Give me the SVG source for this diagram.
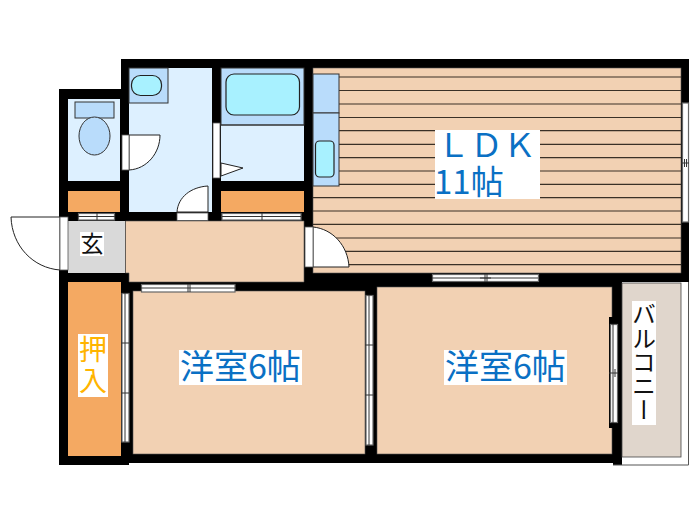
<svg xmlns="http://www.w3.org/2000/svg" width="700" height="525" viewBox="0 0 700 525">
<defs><style>
.wall{fill:#000}
.wood{fill:#f2d1b3;stroke:#555;stroke-width:.6}
.store{fill:#f4a962}
.wet{fill:#ddf0ff}
.fit{fill:#b9dcfb;stroke:#333;stroke-width:1}
.tub{fill:#a8f1ff;stroke:#222;stroke-width:1.2}
.door{fill:#fff;stroke:#222;stroke-width:1}
.leaf{fill:#fff;stroke:#555;stroke-width:.8}
.win{fill:#fff;stroke:#666;stroke-width:1.2}
.x{stroke:#333;stroke-width:1;fill:none}
.plank{stroke:#3a3026;stroke-width:1.2}
.lb{fill:#fff}
text{font-family:"Noto Sans CJK JP","Noto Sans",sans-serif}
.blue{fill:#0a70c4;font-size:34px}
</style></defs>
<rect width="700" height="525" fill="#fff"/>
<g id="walls">
<path class="wall" d="M121 59H689V282H622V465H613V463H129V465H59V89H121Z"/>
</g>
<g id="ldk">
<rect class="wood" x="313" y="68" width="368" height="205"/>
<g class="plank">
<path d="M339 77H681M339 90.500H681M339 104H681M339 117.500H681M339 130.700H681M339 144.300H681M339 157.700H681M339 171H681M339 184.300H681M313 197.700H681M313 211H681M313 224.300H681M313 238H681M313 251.300H681M313 264.700H681"/>
</g>
<rect class="fit" x="313" y="74" width="26" height="39"/>
<rect class="fit" x="313" y="113" width="26" height="73"/>
<rect class="tub" x="315.500" y="141" width="18.500" height="36" rx="4"/>
<rect class="lb" x="435" y="130" width="105" height="69"/>
<text class="blue" style="font-size:33px"><tspan x="437" y="157">ＬＤＫ</tspan><tspan x="434" y="194">11帖</tspan></text>
<path class="door" d="M313 227C333 229 348 246 349 267H313Z"/>
<rect class="leaf" x="305" y="227" width="8" height="40"/>
<rect class="win" x="682.500" y="103" width="6" height="119"/>
<path class="x" d="M681 163H689M684.500 159V167M686.500 159V167"/>
<rect class="win" x="432.500" y="274.500" width="106" height="7"/>
<path class="x" d="M432 278H538M485 274V282M487 274V282M480 278H491"/>
</g>
<g id="toilet">
<rect class="wet" x="68" y="99" width="52" height="82"/>
<rect class="fit" x="75" y="102" width="39" height="16"/>
<ellipse class="fit" cx="94.500" cy="136" rx="15.500" ry="19"/>
<rect class="store" x="68" y="191" width="52" height="21"/>
<rect class="win" x="78.500" y="213.500" width="36" height="6.500"/>
<path class="x" d="M78 216.500H115M97 213V220"/>
</g>
<g id="wash">
<rect class="wet" x="129" y="68" width="83" height="144"/>
<rect class="fit" x="129" y="68" width="39" height="35" stroke="none"/>
<rect class="tub" x="131.500" y="75.500" width="30" height="20" rx="9"/>
<path class="door" d="M129 135H160C160 153 147 169 129 170Z"/>
<rect class="leaf" x="122" y="135" width="7" height="35"/>
<path class="door" d="M208 186V212H177C178 197 191 187 208 186Z"/>
<rect class="leaf" x="177" y="213" width="31" height="7.500"/>
</g>
<g id="bath">
<rect class="wet" x="221" y="68" width="83" height="113"/>
<rect class="fit" x="221" y="68" width="83" height="57" stroke="none"/>
<path d="M221 125H304" stroke="#333" stroke-width="1"/>
<rect class="tub" x="226" y="74" width="73.500" height="41" rx="8"/>
<rect class="leaf" x="213" y="123" width="7" height="55"/>
<path class="door" d="M221 163L243 168L221 176Z"/>
<rect class="store" x="221" y="191" width="83" height="21"/>
<rect class="win" x="222" y="213.500" width="79" height="6.500"/>
<path class="x" d="M222 216.500H301M262 213V220"/>
</g>
<g id="entrance">
<rect x="68" y="221" width="57" height="52" fill="#d9d9d9"/>
<rect class="lb" x="80" y="232" width="24" height="24"/>
<text x="92" y="252" text-anchor="middle" font-size="23" fill="#111">玄</text>
<path class="door" d="M60 217H11C12 246 33 268 60 270Z"/>
<rect class="leaf" x="60" y="217" width="8" height="53"/>
</g>
<g id="hall">
<path class="wood" d="M125.500 221H304V282H129V273H125.500Z"/>
</g>
<g id="closet">
<rect class="store" x="68" y="282" width="53" height="174"/>
<rect class="lb" x="78" y="334" width="30" height="63"/>
<text x="93" y="335" lang="ja" font-size="28" fill="#ffb400" letter-spacing="3" style="writing-mode:vertical-rl;font-family:'Noto Sans CJK JP',sans-serif">押入</text>
<rect class="win" x="122" y="293.500" width="7" height="148.500"/>
<path class="x" d="M121 343H129M121 393H129M125 293V442" stroke="#777"/>
</g>
<g id="room1">
<rect class="wood" x="133" y="291" width="232" height="163"/>
<rect class="win" x="141.500" y="284.500" width="93.500" height="7.500"/>
<path class="x" d="M141 288H235M188 284V292M190 284V292"/>
<rect class="lb" x="179" y="350" width="123" height="35"/>
<text class="blue" x="180" y="379">洋室6帖</text>
<rect class="win" x="366" y="295.500" width="7" height="149.500"/>
<path class="x" d="M365 345H374M365 395H374M369 295V445"/>
</g>
<g id="room2">
<rect class="wood" x="377" y="287" width="235" height="167"/>
<rect x="609" y="317" width="4" height="111" class="wall"/>
<rect class="win" x="610.500" y="324.500" width="7" height="98"/>
<path class="x" d="M609 373H618M613 324V423M615 369V377"/>
<rect class="lb" x="444" y="350" width="123" height="35"/>
<text class="blue" x="445" y="379">洋室6帖</text>
</g>
<g id="balcony">
<rect x="622" y="283" width="59" height="174" fill="#e0d6cc" stroke="#444" stroke-width=".8"/>
<path d="M688.500 282V465H613" fill="none" stroke="#555" stroke-width="1"/>
<rect class="lb" x="632" y="301" width="24" height="124"/>
<text x="644" y="302" lang="ja" font-size="24" fill="#111" style="writing-mode:vertical-rl;font-family:'Noto Sans CJK JP',sans-serif">バルコニー</text>
</g>
</svg>
